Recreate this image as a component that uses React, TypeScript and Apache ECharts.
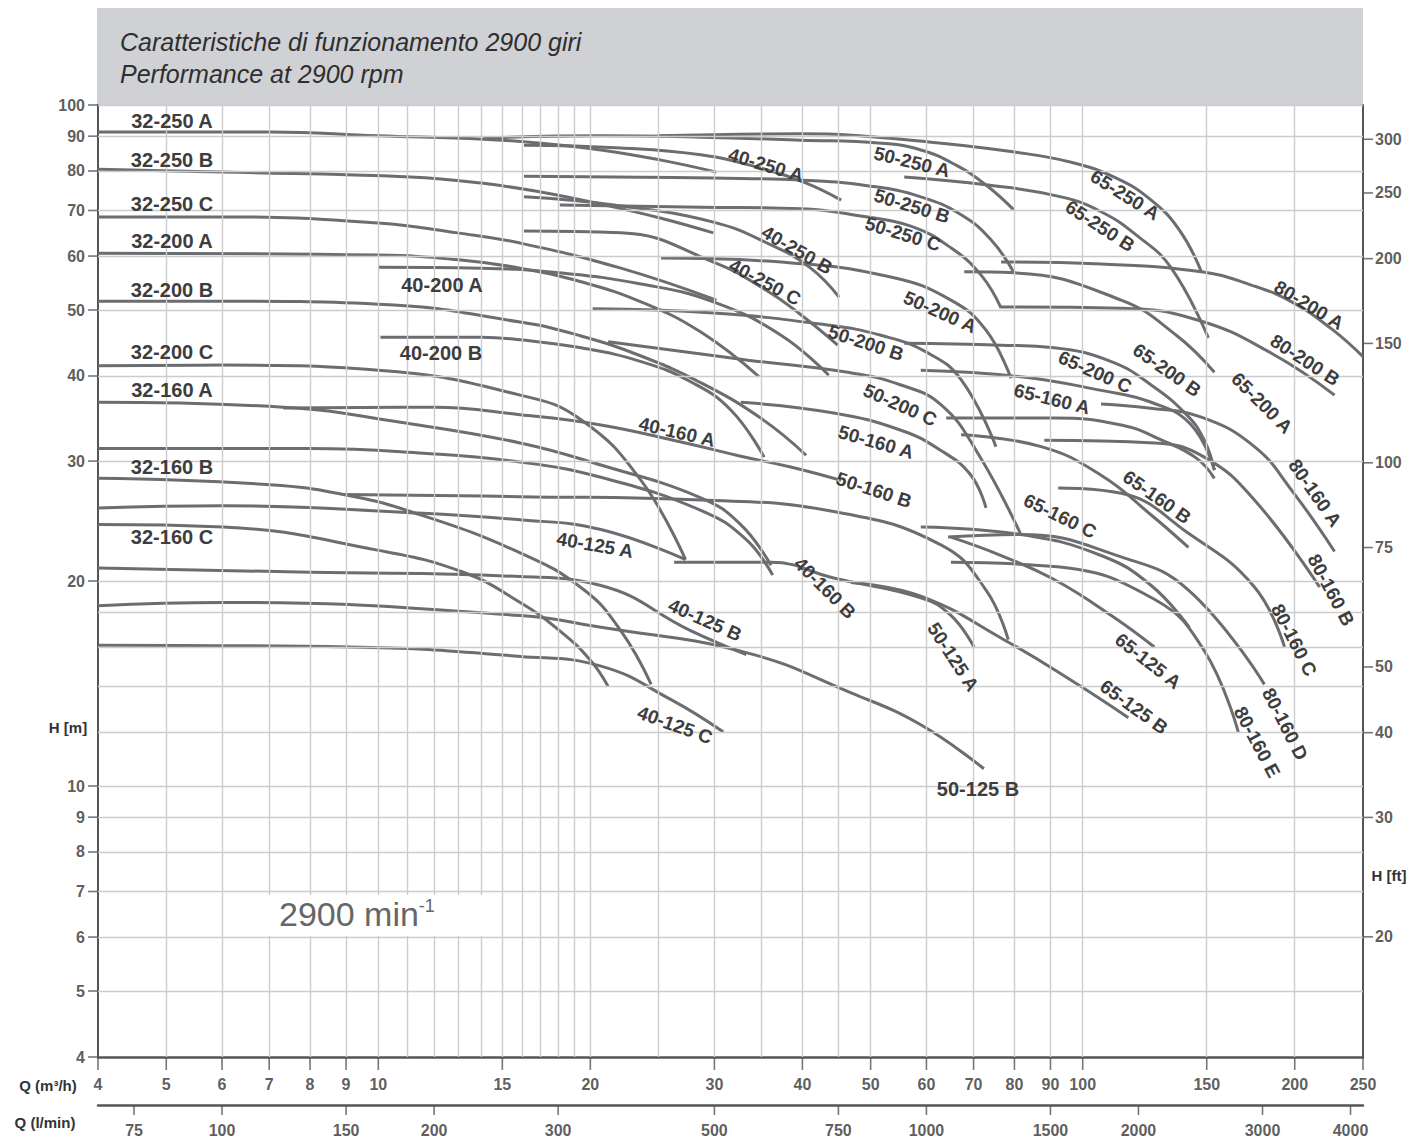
import React, { useEffect, useRef } from 'react';
import * as echarts from 'echarts';

// ---------- axis values ----------
const hTicks = [4, 5, 6, 7, 8, 9, 10, 20, 30, 40, 50, 60, 70, 80, 90, 100];
const hGrid = [5, 6, 7, 8, 9, 10, 12, 14, 16, 18, 20, 30, 40, 50, 60, 70, 80, 90, 100];
const qTicks = [4, 5, 6, 7, 8, 9, 10, 15, 20, 30, 40, 50, 60, 70, 80, 90, 100, 150, 200, 250];
const qGrid = [5, 6, 7, 8, 9, 10, 11, 12, 13, 14, 15, 16, 17, 18, 19, 20, 25, 30, 35, 40, 45, 50, 60, 70, 80, 90, 100, 150, 200];
const lminTicks = [75, 100, 150, 200, 300, 500, 750, 1000, 1500, 2000, 3000, 4000];
const ftTicks = [20, 30, 40, 50, 75, 100, 150, 200, 250, 300];
// right-hand H [ft] scale as printed on the reference
const ftMin = 13.3;
const ftMax = 337;

// ---------- pump curves [Q m3/h, H m] ----------
const q32_250A = [[4, 91.3], [7.02, 91.3], [9.97, 90.1], [14.1, 89.1], [17.0, 87.9], [20.7, 85.9], [25.2, 83.0], [30.2, 79.7]];
const q32_250B = [[4, 80.5], [6.02, 79.7], [11.1, 78.4], [14.0, 76.8], [17.0, 74.5], [20.7, 71.5], [25.2, 68.2], [29.9, 64.9]];
const q32_250C = [[4, 68.5], [6.02, 68.5], [10.0, 67.1], [12.95, 64.9], [15.9, 62.7], [22.1, 57.6], [30.2, 51.7]];
const q32_200A = [[4, 60.6], [10.0, 60.2], [13.1, 59.2], [15.9, 57.6], [19.4, 55.0], [23.6, 51.4], [28.7, 46.4], [34.7, 39.9]];
const q32_200B = [[4, 51.5], [6.02, 51.5], [10.0, 51.0], [15.9, 48.0], [19.4, 45.8], [23.6, 42.8], [28.7, 39.1], [34.9, 34.7], [40.5, 30.6]];
const q32_200C = [[4, 41.4], [6.02, 41.5], [10.0, 40.8], [15.9, 37.5], [19.4, 34.5], [23.6, 28.1], [27.3, 21.5]];
const q32_160A = [[4, 36.6], [7.33, 36.0], [10.75, 34.2], [15.9, 31.9], [20.7, 29.6], [28.7, 26.5], [32.7, 24.2], [36.1, 21.1]];
const q32_160B = [[4, 28.3], [7.02, 27.7], [8.92, 26.8], [11.1, 25.3], [15.9, 22.0], [19.6, 19.4], [22.1, 16.9], [24.4, 14.1]];
const q32_160C = [[4, 24.2], [6.02, 24.0], [9.97, 22.2], [13.2, 20.6], [15.9, 18.6], [18.1, 16.9], [20.0, 15.3], [21.2, 14.0]];

const q40_250A = [[16.1, 87.3], [22.1, 86.5], [28.7, 84.5], [34.9, 80.8], [40.5, 76.8], [45.4, 72.5]];
const q40_250B = [[16.1, 73.3], [21.6, 71.3], [29.9, 67.3], [36.1, 62.3], [41.1, 57.6], [45.1, 52.2]];
const q40_250C = [[16.1, 65.3], [22.1, 64.9], [29.9, 58.8], [35.5, 53.5], [39.8, 49.2], [44.9, 44.4]];
const q40_200A = [[10.0, 57.8], [14.0, 57.6], [18.1, 56.7], [23.6, 54.6], [29.9, 51.4], [37.3, 45.9], [43.6, 40.1]];
const q40_200B = [[10.07, 45.6], [14.0, 45.6], [15.9, 45.2], [19.4, 44.0], [23.6, 42.0], [27.8, 39.2], [31.7, 35.6], [35.3, 30.4]];
const q40_160A = [[7.33, 35.9], [12.0, 36.0], [15.9, 35.1], [20.7, 33.9], [26.9, 32.0], [32.7, 30.5], [38.5, 29.4], [45.4, 28.1]];
const q40_160B = [[4, 31.3], [8.0, 31.3], [11.6, 30.8], [15.9, 29.9], [20.7, 28.4], [28.7, 25.4], [33.3, 23.0], [36.3, 20.4]];
const q40_125A = [[4, 25.6], [6.02, 25.8], [11.1, 25.2], [15.9, 24.6], [20.7, 23.8], [27.3, 21.5]];
const q40_125B = [[4, 20.9], [8.0, 20.6], [15.9, 20.3], [20.7, 19.7], [27.8, 16.9], [33.3, 15.6]];
const q40_125C = [[4, 16.1], [9.12, 16.0], [15.9, 15.5], [20.7, 15.0], [26.0, 13.4], [30.9, 12.0]];

const q50_250A = [[14.1, 89.4], [20.7, 90.1], [28.7, 89.7], [39.8, 88.8], [51.7, 87.9], [58.9, 85.9], [66.1, 81.6], [72.9, 76.3], [79.9, 70.1]];
const q50_250B = [[16.1, 78.6], [29.9, 78.1], [39.8, 77.6], [50.0, 76.0], [58.9, 73.3], [67.2, 69.0], [74.1, 63.4], [79.9, 56.7]];
const q50_250C = [[18.1, 71.3], [28.7, 70.8], [39.8, 70.4], [48.4, 68.7], [57.0, 66.4], [65.0, 61.7], [71.7, 56.3], [76.6, 50.3]];
const q50_200A = [[25.2, 59.6], [37.3, 58.8], [53.4, 55.9], [65.0, 51.7], [72.9, 46.7], [79.1, 39.7]];
const q50_200B = [[20.15, 50.2], [29.9, 49.5], [43.6, 47.5], [51.7, 45.9], [59.9, 43.4], [67.2, 39.5], [75.3, 31.5]];
const q50_200C = [[21.2, 44.9], [33.5, 42.2], [46.4, 40.5], [55.2, 38.8], [62.9, 36.3], [70.6, 31.1], [81.7, 23.4]];
const q50_160A = [[32.7, 36.6], [44.3, 35.3], [55.2, 33.3], [62.9, 31.1], [69.4, 28.6], [72.9, 25.6]];
const q50_160B = [[8.92, 26.8], [15.9, 26.6], [28.7, 26.3], [44.3, 25.3], [62.9, 22.6], [72.9, 19.4], [78.4, 16.4]];
const q50_125A = [[26.3, 21.3], [36.1, 21.3], [44.3, 20.2], [58.9, 18.9], [65.0, 17.8], [70.1, 16.0]];
const q50_125B = [[4, 18.4], [6.02, 18.6], [15.9, 17.8], [20.7, 17.1], [33.3, 15.7], [46.9, 13.7], [58.9, 12.3], [72.4, 10.6]];

const q65_250A = [[24.9, 90.1], [39.8, 90.7], [60.9, 88.2], [79.9, 85.3], [96.3, 82.4], [111.6, 78.1], [125.1, 72.5], [137.2, 65.5], [147.4, 56.9]];
const q65_250B = [[55.8, 78.4], [73.4, 76.3], [93.2, 73.3], [106.2, 69.7], [119.2, 64.4], [133.6, 57.6], [150.8, 45.5]];
const q65_200A = [[67.9, 56.9], [79.9, 56.7], [113.4, 51.7], [135.8, 45.9], [153.8, 40.5]];
const q65_200B = [[55.8, 44.7], [76.6, 44.4], [91.1, 44.0], [109.8, 42.0], [125.1, 38.8], [140.4, 35.1], [148.8, 32.2], [153.8, 29.1]];
const q65_200C = [[58.9, 40.8], [81.7, 39.9], [106.2, 38.1], [125.1, 36.6], [142.6, 33.9], [153.8, 29.1]];
const q65_160A = [[64.0, 34.7], [91.1, 34.7], [113.4, 33.9], [129.5, 32.2], [145.0, 30.3], [153.8, 28.3]];
const q65_160B = [[67.2, 32.8], [87.3, 31.5], [106.2, 28.6], [125.1, 25.0], [141.3, 22.4]];
const q65_160C = [[58.9, 24.0], [81.7, 23.4], [106.2, 21.8], [125.1, 19.7], [141.7, 17.1]];
const q65_125A = [[65.0, 23.2], [76.6, 21.8], [91.1, 20.1], [109.8, 17.8], [126.4, 16.0]];
const q65_125B = [[46.9, 19.9], [58.9, 19.0], [77.3, 16.4], [96.3, 14.3], [116.1, 12.6]];

const q80_200A = [[76.6, 58.8], [106.2, 58.4], [147.4, 56.9], [173.5, 54.4], [198.0, 51.4], [225.6, 46.9], [250, 42.7]];
const q80_200B = [[76.6, 50.5], [113.4, 50.3], [145.9, 48.3], [185.3, 43.2], [227.8, 37.5]];
const q80_160A = [[106.2, 36.4], [123.9, 35.9], [147.4, 34.8], [175.3, 31.5], [197.9, 27.2], [227.8, 22.1]];
const q80_160B = [[88.2, 32.2], [126.4, 31.9], [148.8, 30.4], [175.3, 26.3], [216.9, 19.6]];
const q80_160C = [[92.3, 27.4], [113.4, 26.9], [141.3, 23.5], [175.3, 19.6], [193.4, 16.0]];
const q80_160D = [[64.4, 23.2], [81.7, 23.4], [113.4, 21.7], [141.3, 19.4], [181.1, 14.1]];
const q80_160E = [[65.0, 21.3], [91.1, 21.0], [126.4, 18.8], [148.8, 15.8], [166.3, 12.0]];

const curveList: [string, number[][]][] = [
  ['32-250 A', q32_250A], ['32-250 B', q32_250B], ['32-250 C', q32_250C],
  ['32-200 A', q32_200A], ['32-200 B', q32_200B], ['32-200 C', q32_200C],
  ['32-160 A', q32_160A], ['32-160 B', q32_160B], ['32-160 C', q32_160C],
  ['40-250 A', q40_250A], ['40-250 B', q40_250B], ['40-250 C', q40_250C],
  ['40-200 A', q40_200A], ['40-200 B', q40_200B],
  ['40-160 A', q40_160A], ['40-160 B', q40_160B],
  ['40-125 A', q40_125A], ['40-125 B', q40_125B], ['40-125 C', q40_125C],
  ['50-250 A', q50_250A], ['50-250 B', q50_250B], ['50-250 C', q50_250C],
  ['50-200 A', q50_200A], ['50-200 B', q50_200B], ['50-200 C', q50_200C],
  ['50-160 A', q50_160A], ['50-160 B', q50_160B],
  ['50-125 A', q50_125A], ['50-125 B', q50_125B],
  ['65-250 A', q65_250A], ['65-250 B', q65_250B],
  ['65-200 A', q65_200A], ['65-200 B', q65_200B], ['65-200 C', q65_200C],
  ['65-160 A', q65_160A], ['65-160 B', q65_160B], ['65-160 C', q65_160C],
  ['65-125 A', q65_125A], ['65-125 B', q65_125B],
  ['80-200 A', q80_200A], ['80-200 B', q80_200B],
  ['80-160 A', q80_160A], ['80-160 B', q80_160B], ['80-160 C', q80_160C], ['80-160 D', q80_160D], ['80-160 E', q80_160E],
];

// ---------- label layout (page px centre, clockwise angle) ----------
const curveLabels: [string, number, number, number][] = [
  ['32-250 A', 172, 121, 0], ['32-250 B', 172, 160, 0], ['32-250 C', 172, 204, 0],
  ['32-200 A', 172, 241, 0], ['32-200 B', 172, 290, 0], ['32-200 C', 172, 352, 0],
  ['32-160 A', 172, 390, 0], ['32-160 B', 172, 467, 0], ['32-160 C', 172, 537, 0],
  ['40-200 A', 442, 285, 0], ['40-200 B', 441, 353, 0],
  ['40-250 A', 766, 165, 17], ['40-250 B', 797, 250, 30], ['40-250 C', 765, 282, 28],
  ['50-250 A', 912, 162, 14], ['50-250 B', 912, 206, 17], ['50-250 C', 903, 234, 17],
  ['65-250 A', 1125, 195, 32], ['65-250 B', 1100, 226, 33],
  ['50-200 A', 940, 312, 24], ['50-200 B', 866, 343, 18], ['50-200 C', 900, 405, 24],
  ['40-160 A', 677, 432, 13], ['50-160 A', 876, 442, 16], ['50-160 B', 874, 490, 18],
  ['40-125 A', 595, 545, 10], ['40-160 B', 825, 588, 45], ['40-125 B', 705, 620, 24], ['40-125 C', 675, 725, 20],
  ['50-125 A', 953, 657, 57], ['50-125 B', 978, 789, 0],
  ['65-200 A', 1262, 403, 45], ['65-200 B', 1167, 370, 35], ['65-200 C', 1095, 372, 24], ['65-160 A', 1052, 399, 14],
  ['65-160 B', 1157, 497, 35], ['65-160 C', 1060, 516, 26], ['65-125 A', 1148, 661, 38], ['65-125 B', 1134, 707, 36],
  ['80-200 A', 1309, 305, 31], ['80-200 B', 1305, 360, 33],
  ['80-160 A', 1315, 493, 55], ['80-160 B', 1331, 590, 62], ['80-160 C', 1294, 640, 63], ['80-160 D', 1285, 724, 63], ['80-160 E', 1257, 742, 62],
];

const FONT = "'Liberation Sans', Arial, Helvetica, sans-serif";
const CURVE = '#6b6d70';
const GRID = '#cccccc';
const AXIS = '#555555';
const TXT = '#333333';

export default function App() {
  const ref = useRef<HTMLDivElement>(null);

  useEffect(() => {
    if (!ref.current) return;
    const chart = echarts.init(ref.current, undefined, { renderer: 'svg' });

    const tickLabel = {
      show: true,
      color: TXT,
      fontFamily: FONT,
      fontSize: 16,
      fontWeight: 'bold',
    };

    const series: any[] = [];

    // grid lines
    series.push({
      type: 'line',
      xAxisIndex: 0,
      yAxisIndex: 0,
      data: [[4, 4]],
      symbol: 'none',
      lineStyle: { width: 0 },
      silent: true,
      z: 1,
      markLine: {
        silent: true,
        symbol: ['none', 'none'],
        label: { show: false },
        precision: 3,
        lineStyle: { color: GRID, width: 1.4, type: 'solid' },
        emphasis: { disabled: true },
        data: [
          ...qGrid.map((v) => ({ xAxis: v })),
          ...hGrid.map((v) => ({ yAxis: v })),
        ],
      },
    });

    // pump curves
    curveList.forEach(([name, d]) => {
      series.push({
        type: 'line',
        name,
        xAxisIndex: 0,
        yAxisIndex: 0,
        data: d,
        smooth: 0.45,
        symbol: 'none',
        showSymbol: false,
        silent: true,
        lineStyle: { color: CURVE, width: 3 },
        z: 3,
      });
    });

    // left H [m] ticks + labels
    series.push({
      type: 'scatter',
      xAxisIndex: 0,
      yAxisIndex: 0,
      silent: true,
      clip: false,
      z: 6,
      symbol: 'rect',
      symbolSize: [10, 1.6],
      symbolOffset: [-5, 0],
      itemStyle: { color: AXIS },
      label: { ...tickLabel, position: 'left', distance: 3, formatter: (p: any) => String(p.value[1]) },
      data: hTicks.map((v) => [4, v]),
    });

    // right H [ft] ticks + labels
    series.push({
      type: 'scatter',
      xAxisIndex: 0,
      yAxisIndex: 1,
      silent: true,
      clip: false,
      z: 6,
      symbol: 'rect',
      symbolSize: [10, 1.6],
      symbolOffset: [5, 0],
      itemStyle: { color: AXIS },
      label: { ...tickLabel, position: 'right', distance: 2, formatter: (p: any) => String(p.value[1]) },
      data: ftTicks.map((v) => [250, v]),
    });

    // bottom Q (m3/h) ticks + labels
    series.push({
      type: 'scatter',
      xAxisIndex: 0,
      yAxisIndex: 0,
      silent: true,
      clip: false,
      z: 6,
      symbol: 'rect',
      symbolSize: [1.6, 13],
      symbolOffset: [0, 6.5],
      itemStyle: { color: AXIS },
      label: { ...tickLabel, position: 'bottom', distance: 6, formatter: (p: any) => String(p.value[0]) },
      data: qTicks.map((v) => [v, 4]),
    });

    // bottom Q (l/min) ticks + labels
    series.push({
      type: 'scatter',
      xAxisIndex: 1,
      yAxisIndex: 0,
      silent: true,
      clip: false,
      z: 6,
      symbol: 'rect',
      symbolSize: [1.6, 10],
      symbolOffset: [0, 53],
      itemStyle: { color: AXIS },
      label: { ...tickLabel, position: 'bottom', distance: 7, formatter: (p: any) => String(p.value[0]) },
      data: lminTicks.map((v) => [v, 4]),
    });

    const hiddenAxisParts = {
      axisTick: { show: false },
      axisLabel: { show: false },
      splitLine: { show: false },
      minorTick: { show: false },
      minorSplitLine: { show: false },
    };

    const graphics: any[] = [
      {
        type: 'rect',
        z: 0,
        silent: true,
        shape: { x: 97, y: 8, width: 1266, height: 97 },
        style: { fill: '#cfd1d4' },
      },
      {
        type: 'text',
        z: 1,
        silent: true,
        x: 120,
        y: 42,
        style: { text: 'Caratteristiche di funzionamento 2900 giri', font: `italic 25px ${FONT}`, fill: '#2e2e2e', align: 'left', verticalAlign: 'middle' },
      },
      {
        type: 'text',
        z: 1,
        silent: true,
        x: 120,
        y: 74,
        style: { text: 'Performance at 2900 rpm', font: `italic 25px ${FONT}`, fill: '#2e2e2e', align: 'left', verticalAlign: 'middle' },
      },
      {
        type: 'rect',
        z: 10,
        silent: true,
        shape: { x: 264, y: 895, width: 226, height: 41 },
        style: { fill: '#ffffff' },
      },
      {
        type: 'text',
        z: 11,
        silent: true,
        x: 279,
        y: 914,
        style: {
          text: '{a|2900 min}{b|-1}',
          align: 'left',
          verticalAlign: 'middle',
          rich: {
            a: { fontFamily: FONT, fontSize: 34, fill: '#666666' },
            b: { fontFamily: FONT, fontSize: 18, fill: '#666666', verticalAlign: 'top' },
          },
        },
      },
      {
        type: 'text', z: 11, silent: true, x: 68, y: 727,
        style: { text: 'H [m]', font: `bold 15px ${FONT}`, fill: TXT, align: 'center', verticalAlign: 'middle' },
      },
      {
        type: 'text', z: 11, silent: true, x: 1389, y: 875,
        style: { text: 'H [ft]', font: `bold 15px ${FONT}`, fill: TXT, align: 'center', verticalAlign: 'middle' },
      },
      {
        type: 'text', z: 11, silent: true, x: 48, y: 1085,
        style: { text: 'Q (m³/h)', font: `bold 15px ${FONT}`, fill: TXT, align: 'center', verticalAlign: 'middle' },
      },
      {
        type: 'text', z: 11, silent: true, x: 45, y: 1122,
        style: { text: 'Q (l/min)', font: `bold 15px ${FONT}`, fill: TXT, align: 'center', verticalAlign: 'middle' },
      },
      ...curveLabels.map(([t, x, y, a]) => ({
        type: 'text',
        z: 20,
        silent: true,
        x,
        y,
        rotation: (-a * Math.PI) / 180,
        style: {
          text: t,
          x: 0,
          y: 0,
          font: `bold ${a === 0 ? 20 : 19}px ${FONT}`,
          fill: '#3d3d3d',
          align: 'center',
          verticalAlign: 'middle',
        },
      })),
    ];

    chart.setOption({
      animation: false,
      backgroundColor: '#ffffff',
      grid: { left: 98, top: 105, right: 62, bottom: 85, containLabel: false },
      xAxis: [
        {
          type: 'log',
          logBase: 10,
          min: 4,
          max: 250,
          position: 'bottom',
          axisLine: { show: true, onZero: false, lineStyle: { color: AXIS, width: 2.5 } },
          ...hiddenAxisParts,
        },
        {
          type: 'log',
          logBase: 10,
          min: 4000 / 60,
          max: 250000 / 60,
          position: 'bottom',
          offset: 48,
          axisLine: { show: true, onZero: false, lineStyle: { color: AXIS, width: 2.5 } },
          ...hiddenAxisParts,
        },
      ],
      yAxis: [
        {
          type: 'log',
          logBase: 10,
          min: 4,
          max: 100,
          position: 'left',
          axisLine: { show: true, onZero: false, lineStyle: { color: AXIS, width: 2 } },
          ...hiddenAxisParts,
        },
        {
          type: 'log',
          logBase: 10,
          min: ftMin,
          max: ftMax,
          position: 'right',
          axisLine: { show: true, onZero: false, lineStyle: { color: AXIS, width: 2 } },
          ...hiddenAxisParts,
        },
      ],
      series,
      graphic: graphics,
    });

    return () => {
      chart.dispose();
    };
  }, []);

  return (
    <div
      ref={ref}
      style={{ position: 'absolute', left: 0, top: 0, width: 1425, height: 1142, background: '#ffffff' }}
    />
  );
}
